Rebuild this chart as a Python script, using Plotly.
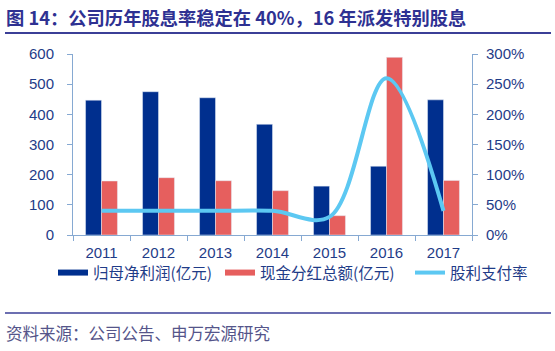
import plotly.graph_objects as go

years = ["2011", "2012", "2013", "2014", "2015", "2016", "2017"]
net_profit = [447, 475, 455, 367, 162, 228, 448]
dividend = [179, 190, 180, 147, 64, 589, 181]
payout = [0.40, 0.40, 0.40, 0.40, 0.30, 2.60, 0.40]

NAVY = "#002F8E"
RED = "#E65F5E"
BLUE = "#5CC8F2"
AX = "#86A9D2"
TICK = "#1F3C88"

W, H = 555, 351
L, R, T, B = 73, 472, 54, 235

def px(x):
    return (x - L) / (R - L)

def py(y):
    return (B - y) / (B - T)

fig = go.Figure()
fig.add_trace(go.Bar(x=years, y=net_profit, name="归母净利润(亿元)", marker_color=NAVY,
                     showlegend=False))
fig.add_trace(go.Bar(x=years, y=dividend, name="现金分红总额(亿元)", marker_color=RED,
                     showlegend=False))
fig.add_trace(go.Scatter(x=[None], y=[None], mode="lines", name="归母净利润(亿元)",
                         line=dict(color=NAVY, width=6), legend="legend"))
fig.add_trace(go.Scatter(x=[None], y=[None], mode="lines", name="现金分红总额(亿元)",
                         line=dict(color=RED, width=6), legend="legend2"))
fig.add_trace(go.Scatter(x=years, y=payout, name="股利支付率", mode="lines", yaxis="y2",
                         line=dict(color=BLUE, width=4, shape="spline", smoothing=1.0),
                         legend="legend3"))

leg_common = dict(orientation="h", xanchor="left", y=py(273), yanchor="middle",
                  font=dict(family="Noto Sans CJK SC", size=15.5, color=TICK),
                  itemwidth=30, bgcolor="rgba(0,0,0,0)")

fig.update_layout(
    width=W, height=H,
    margin=dict(l=L, r=W - R, t=T, b=H - B, autoexpand=False),
    paper_bgcolor="white", plot_bgcolor="white",
    barmode="group", bargap=0.44, bargroupgap=0,
    font=dict(family="Liberation Sans, Arial, sans-serif", color=TICK, size=15),
    xaxis=dict(showline=True, linecolor=AX, linewidth=1, ticks="outside", tickson="boundaries",
               tickcolor=AX, ticklen=5, tickfont=dict(size=15, color=TICK), showgrid=False,
               ticklabelstandoff=4, automargin=False),
    yaxis=dict(range=[0, 600], dtick=100, showline=True, linecolor=AX, linewidth=1,
               ticks="outside", tickcolor=AX, ticklen=5, showgrid=False, zeroline=False,
               tickfont=dict(size=15, color=TICK), ticklabelstandoff=10, automargin=False),
    yaxis2=dict(range=[0, 3], dtick=0.5, tickformat=".0%", overlaying="y", side="right",
                showline=True, linecolor=AX, linewidth=1, ticks="outside", tickcolor=AX,
                ticklen=5, showgrid=False, zeroline=False, tickfont=dict(size=15, color=TICK),
                ticklabelstandoff=5, automargin=False),
    legend=dict(leg_common, x=px(53)),
    legend2=dict(leg_common, x=px(220)),
    legend3=dict(leg_common, x=px(410)),
    shapes=[
        dict(type="line", xref="paper", yref="paper", x0=px(5), x1=px(551), y0=py(33), y1=py(33),
             line=dict(color="#3B3F97", width=2)),
        dict(type="line", xref="paper", yref="paper", x0=px(5), x1=px(551), y0=py(313), y1=py(313),
             line=dict(color="#3B3F97", width=1.5)),
    ],
    annotations=[
        dict(text="<b>图 14：公司历年股息率稳定在 40%，16 年派发特别股息</b>", xref="paper", yref="paper",
             x=px(4), y=py(17), xanchor="left", yanchor="middle", showarrow=False,
             font=dict(family="Noto Sans CJK SC", size=18.3, color="#2E3192")),
        dict(text="资料来源：公司公告、申万宏源研究", xref="paper", yref="paper",
             x=px(4), y=py(333), xanchor="left", yanchor="middle", showarrow=False,
             font=dict(family="Noto Sans CJK SC", size=16.5, color="#55558A")),
    ],
)

fig.write_html("out.html")
